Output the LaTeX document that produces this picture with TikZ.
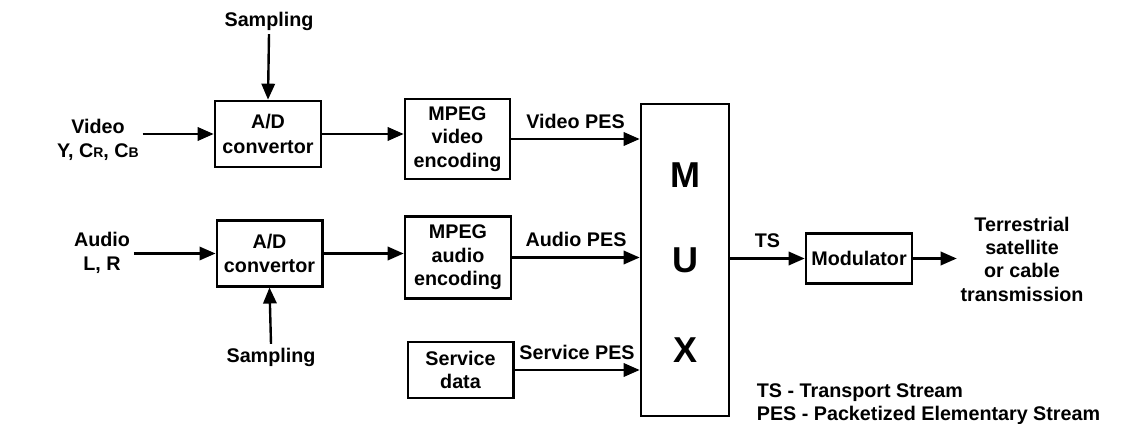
\documentclass[tikz,border=0pt]{standalone}
\usepackage{fontspec}
\setmainfont{Liberation Sans}
\usetikzlibrary{arrows.meta}

\newcommand{\smallidx}[1]{{\fontsize{10.5}{10}\selectfont #1}}

\begin{document}
\begin{tikzpicture}[x=0.75pt, y=-0.75pt, line width=1.8pt,
  >={Triangle[length=12pt, width=10pt]},
  every node/.style={font=\fontsize{14.8}{17.5}\selectfont\bfseries, align=center, inner sep=2pt},
  block/.style={draw, line width=2pt, inner sep=0pt}]
\useasboundingbox (0, 0) rectangle (1143, 424);

% video branch
\node [] (0) at (269, 21) {Sampling};
\node [block, minimum width=79.5pt, minimum height=49.5pt] (1) at (268, 134) {A/D\\[1pt]convertor};
\node [] (2) at (98, 140) {Video\\Y, C\smallidx{R}, C\smallidx{B}};
\node [block, minimum width=78.75pt, minimum height=60pt] (3) at (457.5, 139) {MPEG\\video\\encoding};

% audio branch
\node [] (4) at (102, 253) {Audio\\L, R};
\node [block, minimum width=79pt, minimum height=49pt] (5) at (269.5, 253.5) {A/D\\[1pt]convertor};
\node [] (6) at (271, 357) {Sampling};
\node [block, minimum width=79.5pt, minimum height=61pt] (7) at (458, 257.5) {MPEG\\audio\\encoding};

\node [block, minimum width=79pt, minimum height=42pt] (8) at (460.5, 370) {Service\\data};

% multiplexer
\node [block, minimum width=66pt, minimum height=234pt] (9) at (685, 260) {};
\node [font=\fontsize{27}{27}\selectfont\bfseries] (10) at (685, 175) {M};
\node [font=\fontsize{27}{27}\selectfont\bfseries] (11) at (685, 260) {U};
\node [font=\fontsize{27}{27}\selectfont\bfseries] (12) at (685, 350) {X};

\node [block, minimum width=79.5pt, minimum height=37pt] (13) at (859, 258.5) {Modulator};
\node [] (14) at (1022, 259) {Terrestrial\\satellite\\or cable\\transmission};

\node [anchor=west, align=left] (15) at (753, 404) {TS - Transport Stream\\PES - Packetized Elementary Stream};

\draw [->] (2.east |- 1.west) to (1.west);
\draw [->] (0.south) to (1.north);
\draw [->] (1.east) to (1.east -| 3.west);
\draw [->] (3.east) to node [above=5pt] {Video PES} (3.east -| 9.west);

\draw [->] (4.east |- 5.west) to (5.west);
\draw [->] (6.north) to (5.south);
\draw [->] (5.east) to (5.east -| 7.west);
\draw [->] (7.east) to node [above=5pt] {Audio PES} (7.east -| 9.west);

\draw [->] (8.east) to node [above=5pt] {Service PES} (8.east -| 9.west);

\draw [->] (9.east |- 13.west) to node [above=5pt] {TS} (13.west);
\draw [->] (13.east) to (13.east -| 14.west);
\end{tikzpicture}
\end{document}
